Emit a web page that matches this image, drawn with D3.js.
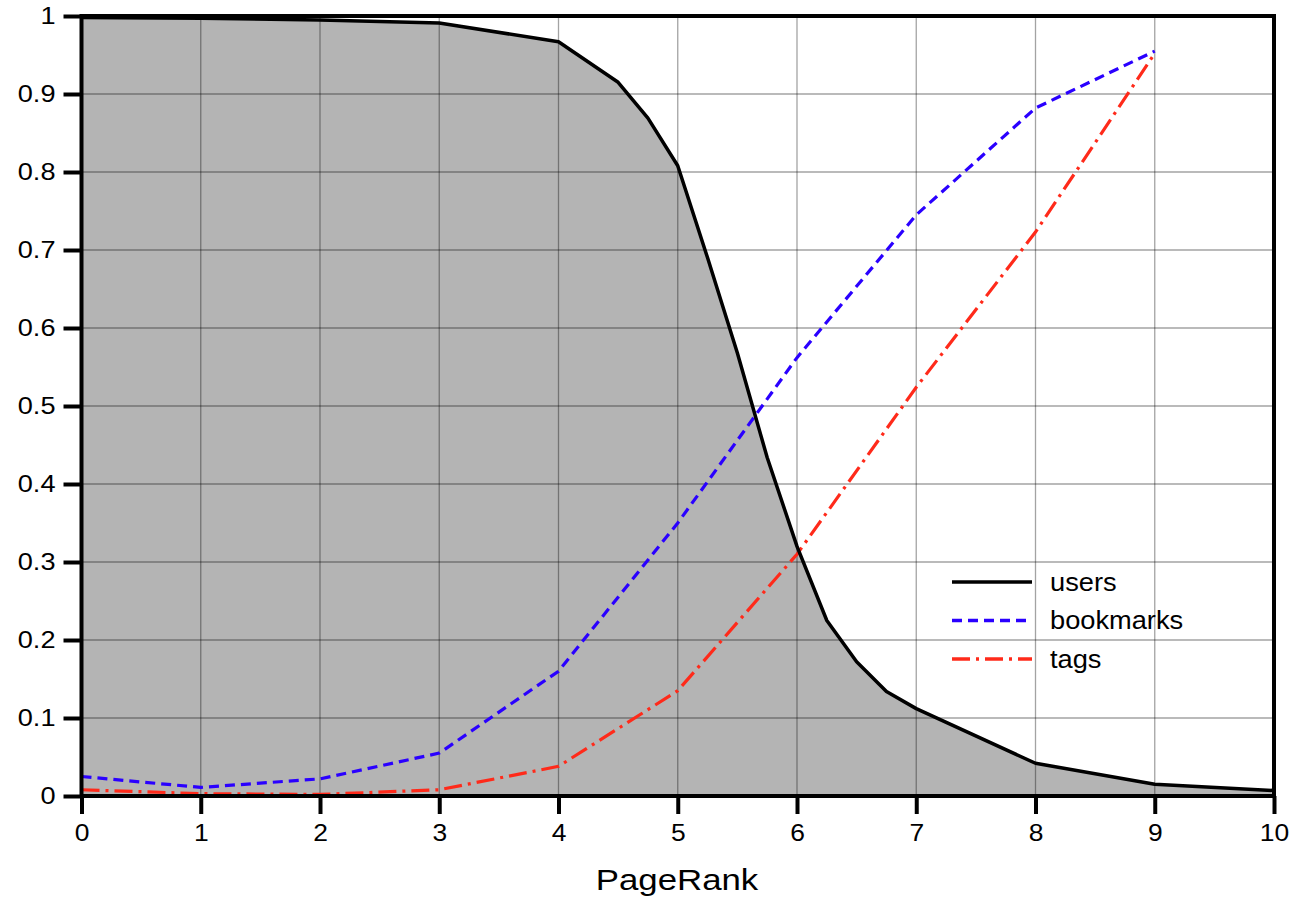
<!DOCTYPE html>
<html><head><meta charset="utf-8">
<script src="https://cdn.jsdelivr.net/npm/d3@7"></script>
<style>body{margin:0;background:#fff}svg{display:block}text{font-family:"Liberation Sans",Arial,Helvetica,sans-serif;fill:#000}</style>
</head><body>
<svg id="c" width="1304" height="900"></svg>
<script>
const usersX = [0,1,2,3,4,4.5,4.75,5,5.25,5.5,5.75,6,6.25,6.5,6.75,7,8,9,10];
const usersY = [0.998,0.997,0.995,0.991,0.967,0.915,0.869,0.808,0.69,0.568,0.434,0.32,0.225,0.172,0.134,0.112,0.042,0.015,0.007];
const bookX = [0,1,2,3,4,5,6,7,8,9];
const bookY = [0.025,0.011,0.022,0.055,0.16,0.35,0.562,0.745,0.882,0.955];
const tagX = [0,1,2,3,4,5,6,7,8,9];
const tagY = [0.008,0.003,0.002,0.008,0.038,0.135,0.31,0.524,0.723,0.952];
const xTicks = [0,1,2,3,4,5,6,7,8,9,10];
const yTicks = [0,0.1,0.2,0.3,0.4,0.5,0.6,0.7,0.8,0.9,1];
const seriesNames = ["users","bookmarks","tags"];
const seriesColors = ["#000000","#2a00ff","#ff2a1a"];

const svg = d3.select("#c");
const x = d3.scaleLinear().domain([0,10]).range([81.5,1274]);
const y = d3.scaleLinear().domain([0,1]).range([796,16]);

const users = usersX.map((v,i)=>[v,usersY[i]]);
const book = bookX.map((v,i)=>[v,bookY[i]]);
const tags = tagX.map((v,i)=>[v,tagY[i]]);

svg.append("path").datum(users)
  .attr("d", d3.area().x(d=>x(d[0])).y0(y(0)).y1(d=>y(d[1])))
  .attr("fill","#b4b4b4");

const g = svg.append("g");
g.selectAll(".gx").data(xTicks.slice(1,-1)).join("line")
  .attr("x1",d=>x(d)).attr("x2",d=>x(d)).attr("y1",y(0)).attr("y2",y(1))
  .attr("stroke","#000").attr("stroke-opacity",0.36).attr("stroke-width",1.3);
g.selectAll(".gy").data(yTicks.slice(1,-1)).join("line")
  .attr("y1",d=>y(d)).attr("y2",d=>y(d)).attr("x1",x(0)).attr("x2",x(10))
  .attr("stroke","#000").attr("stroke-opacity",0.36).attr("stroke-width",1.3);

const line = d3.line().x(d=>x(d[0])).y(d=>y(d[1]));
svg.append("path").datum(book).attr("d",line).attr("fill","none")
  .attr("stroke",seriesColors[1]).attr("stroke-width",3.2).attr("stroke-dasharray","10,6");
svg.append("path").datum(tags).attr("d",line).attr("fill","none")
  .attr("stroke",seriesColors[2]).attr("stroke-width",3.2).attr("stroke-dasharray","18,6,3,6");
svg.append("path").datum(users).attr("d",line).attr("fill","none")
  .attr("stroke",seriesColors[0]).attr("stroke-width",3.5).attr("stroke-linejoin","round");

svg.append("rect").attr("x",x(0)).attr("y",y(1)).attr("width",x(10)-x(0)).attr("height",y(0)-y(1))
  .attr("fill","none").attr("stroke","#000").attr("stroke-width",4);

const xa = svg.append("g").attr("transform",`translate(0,${y(0)})`)
  .call(d3.axisBottom(x).tickValues(xTicks).tickFormat(d3.format("d")).tickSize(18).tickPadding(11));
const ya = svg.append("g").attr("transform",`translate(${x(0)},0)`)
  .call(d3.axisLeft(y).tickValues(yTicks).tickFormat(d=>d===0?"0":d===1?"1":d3.format(".1f")(d)).tickSize(18).tickPadding(8));
[xa,ya].forEach(a=>{
  a.select(".domain").remove();
  a.selectAll(".tick line").attr("stroke","#000").attr("stroke-width",4);
  a.selectAll(".tick text").style("font-size","23px").style("font-family","'Liberation Sans', Arial, sans-serif").attr("fill","#000");
});
xa.selectAll(".tick text").attr("transform","scale(1.15,1)");
ya.selectAll(".tick text").attr("x",0).attr("transform","translate(-26,0) scale(1.18,1)");

svg.append("text").attr("transform","translate(677,890) scale(1.2,1)").attr("text-anchor","middle")
  .style("font-size","29px").text("PageRank");

const dashes = [null,"10,6","18,6,3,6"];
const leg = svg.append("g");
seriesNames.forEach((n,i)=>{
  const ly = 582 + i*38.5;
  leg.append("line").attr("x1",952).attr("x2",1032).attr("y1",ly).attr("y2",ly)
    .attr("stroke",seriesColors[i]).attr("stroke-width",3.5).attr("stroke-dasharray",dashes[i]);
  leg.append("text").attr("transform",`translate(1050,${ly}) scale(1.09,1)`).attr("dy","0.35em")
    .style("font-size","25px").text(n);
});
</script>
</body></html>
